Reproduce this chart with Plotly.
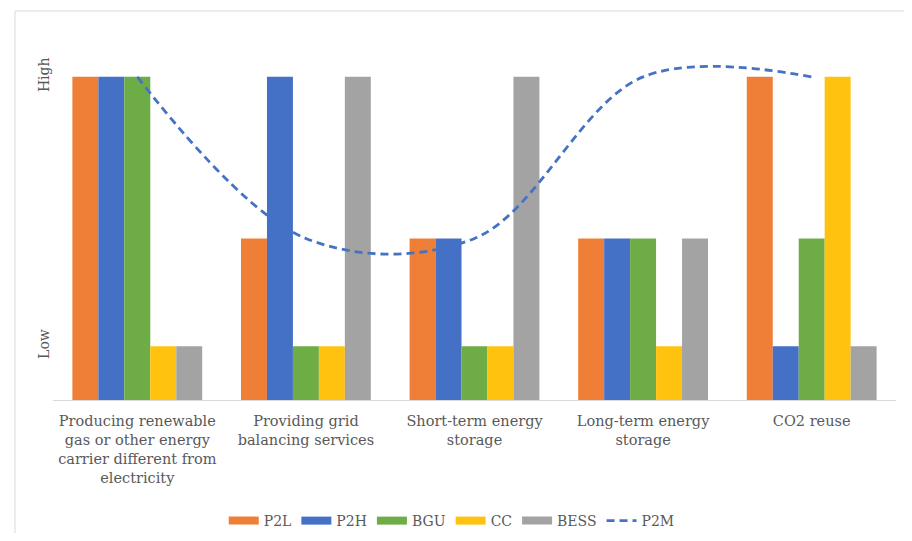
import plotly.graph_objects as go

categories = [
    "Producing renewable<br>gas or other energy<br>carrier different from<br>electricity",
    "Providing grid<br>balancing services",
    "Short-term energy<br>storage",
    "Long-term energy<br>storage",
    "CO2 reuse",
]
# level scale: Low = 1, Medium = 3, High = 6
p2l = [6, 3, 3, 3, 6]
p2h = [6, 6, 3, 3, 1]
bgu = [6, 1, 1, 3, 3]
cc = [1, 1, 1, 1, 6]
bess = [1, 6, 6, 3, 1]
p2m = [6, 3, 3, 6, 6]
tick_vals = [1, 6]
tick_text = ["Low", "High"]

FONT = "DejaVu Serif"
TXT = "#595959"

# page body has an 8px margin; figure sized so the page fits the window
W, H = 896, 525
L, R, T, B = 45, 8, 15, 133
PW, PH = W - L - R, H - T - B

fig = go.Figure()
bar_series = [
    ("P2L", p2l, "#EF7E36"),
    ("P2H", p2h, "#4470C6"),
    ("BGU", bgu, "#6EAD46"),
    ("CC", cc, "#FFC20E"),
    ("BESS", bess, "#A3A3A3"),
]
for name, vals, col in bar_series:
    fig.add_trace(go.Bar(x=categories, y=vals, name=name, legendgroup=name,
                         showlegend=False,
                         marker=dict(color=col, line=dict(width=0))))
    # legend-only entry giving a wide flat swatch like the original
    fig.add_trace(go.Scatter(x=[None], y=[None], name=name, legendgroup=name,
                             mode="lines", line=dict(color=col, width=8),
                             hoverinfo="skip"))

fig.add_trace(go.Scatter(x=categories, y=p2m, name="P2M", mode="lines",
                         line=dict(color="#4472C4", width=2.8, dash="8px,5px",
                                   shape="spline", smoothing=1.0)))

fig.update_layout(
    width=W, height=H,
    margin=dict(l=L, r=R, t=T, b=B, autoexpand=False),
    paper_bgcolor="white", plot_bgcolor="white",
    barmode="group", bargap=0.23, bargroupgap=0,
    font=dict(family=FONT, size=14, color=TXT),
    showlegend=True,
    legend=dict(orientation="h", x=0.473, xanchor="center", y=-0.321,
                yanchor="middle", font=dict(family=FONT, size=14, color=TXT),
                traceorder="normal", itemwidth=30),
    xaxis=dict(showgrid=False, showline=True, linecolor="#D9D9D9", linewidth=1,
               ticks="", tickfont=dict(family=FONT, size=14.5, color=TXT),
               tickangle=0, ticklabelstandoff=8, automargin=False),
    yaxis=dict(range=[0, 7], showgrid=False, zeroline=False, showline=False,
               tickvals=tick_vals, ticktext=tick_text, tickangle=-90,
               tickfont=dict(family=FONT, size=14, color=TXT), ticks="",
               automargin=False),
    shapes=[dict(type="rect", xref="paper", yref="paper",
                 x0=(7 - L) / PW, x1=(W + 20 - L) / PW,
                 y0=-(H + 20 - T - PH) / PH, y1=(T + PH - 3) / PH,
                 line=dict(color="#D9D9D9", width=1), fillcolor="rgba(0,0,0,0)",
                 layer="below")],
)

fig.write_html("out.html")
